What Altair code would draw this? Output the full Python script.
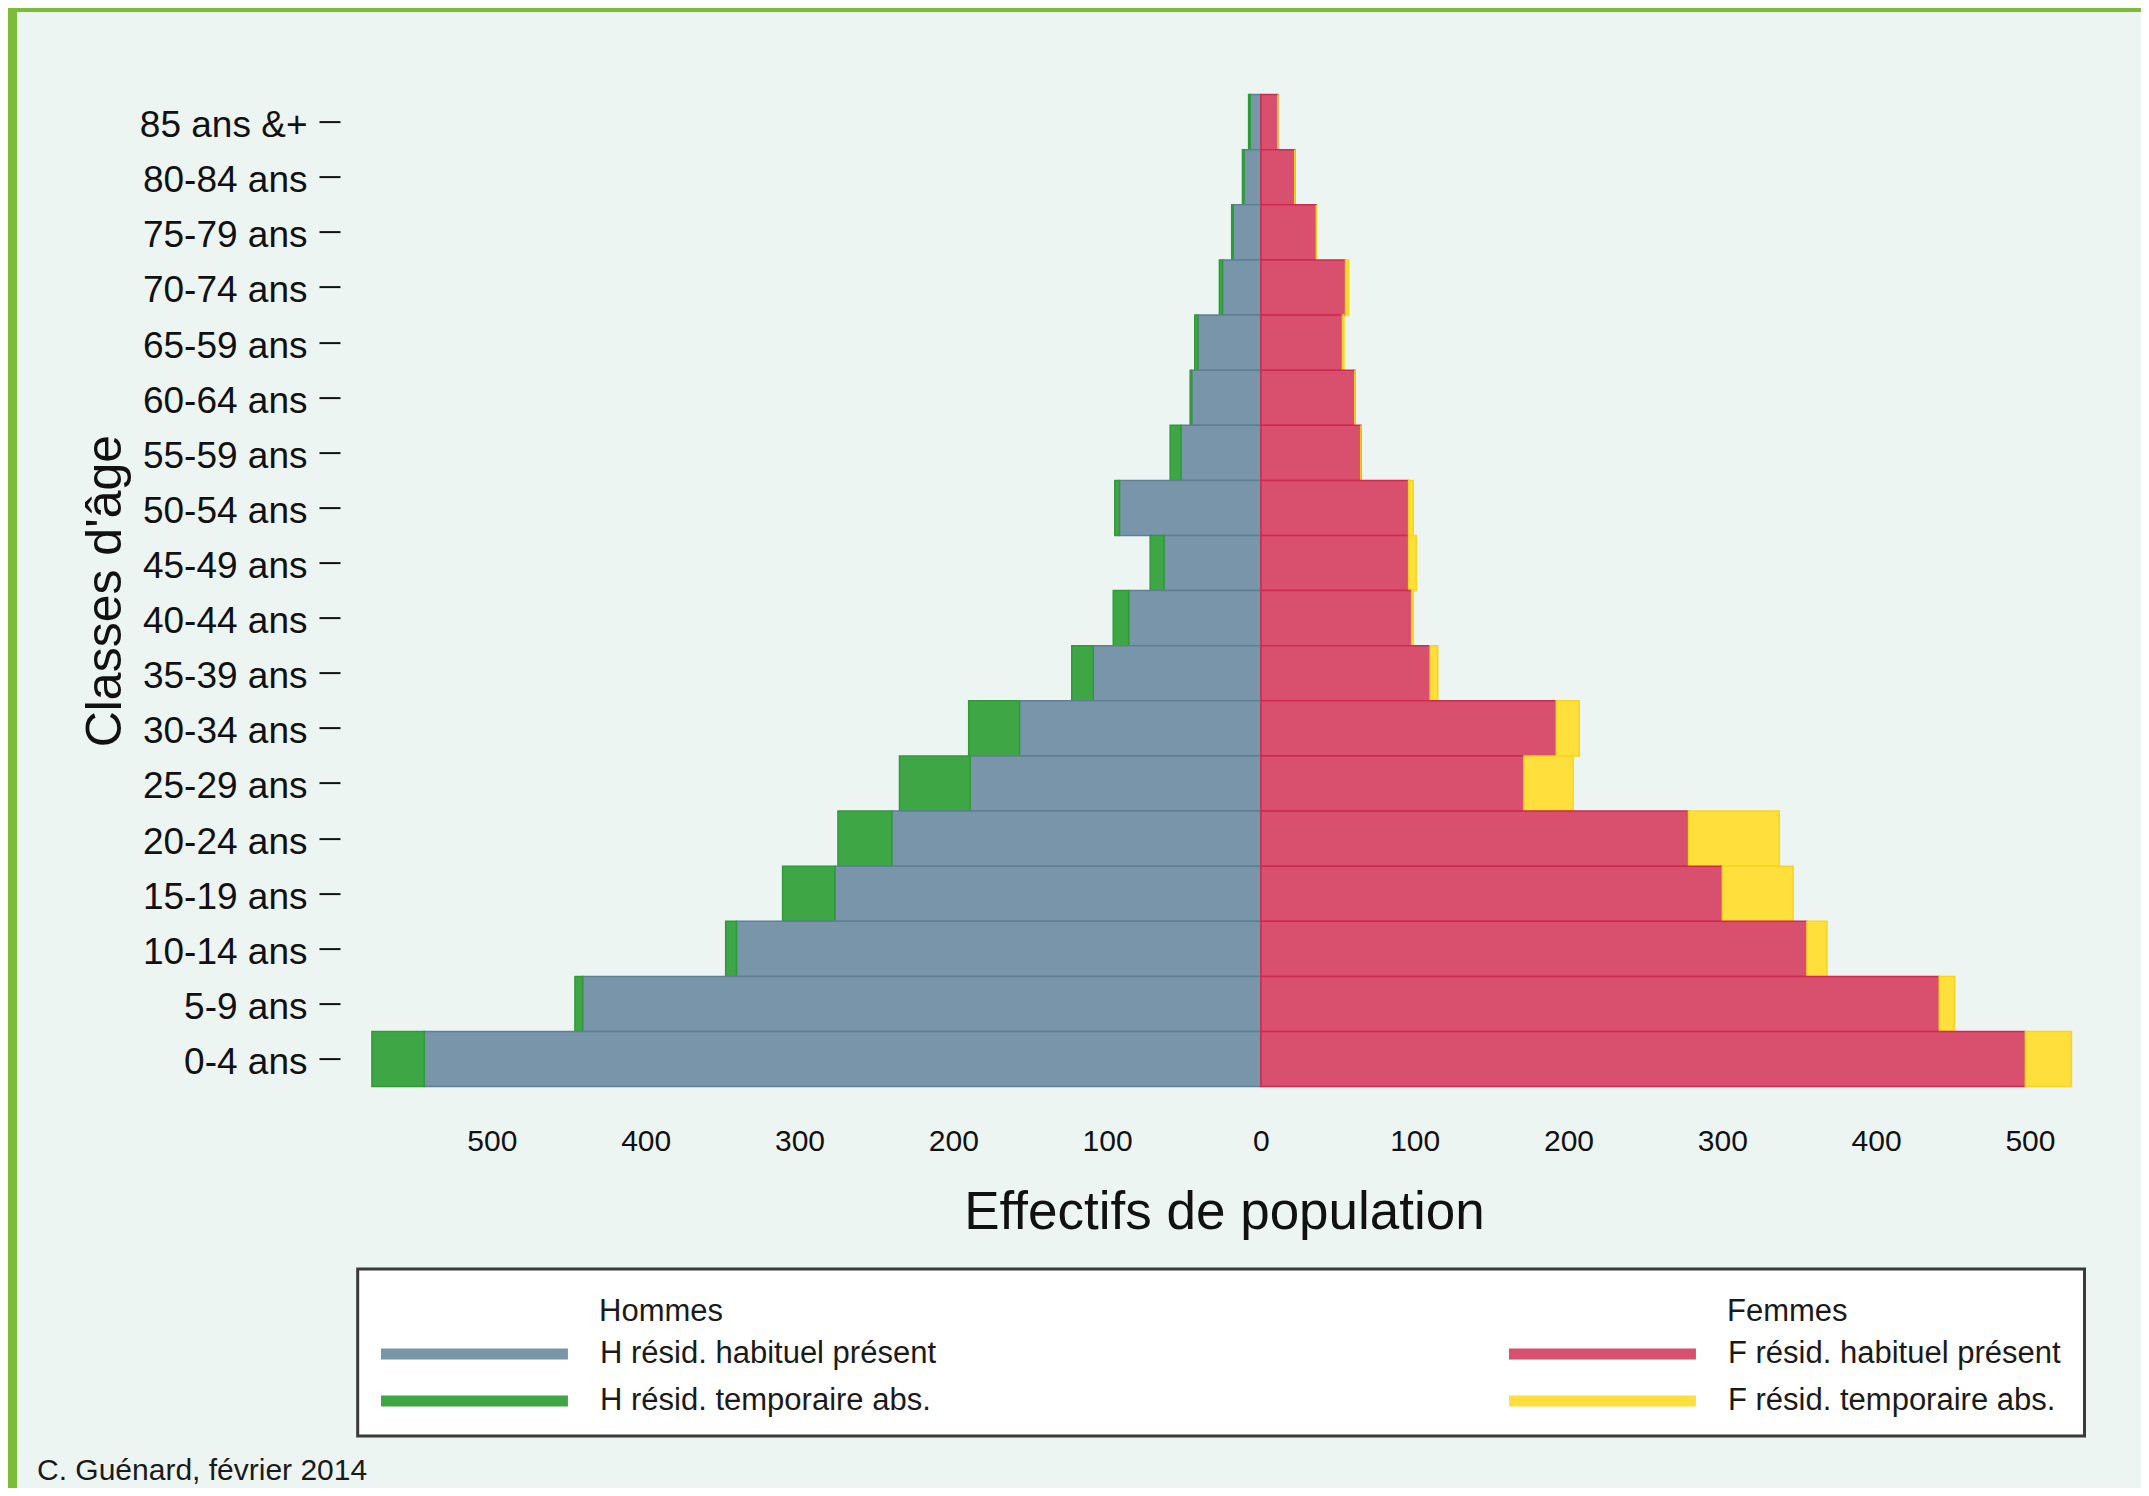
import altair as alt
import pandas as pd

# ---------------- data ----------------
ages = ["85 ans &+", "80-84 ans", "75-79 ans", "70-74 ans", "65-59 ans", "60-64 ans",
        "55-59 ans", "50-54 ans", "45-49 ans", "40-44 ans", "35-39 ans", "30-34 ans",
        "25-29 ans", "20-24 ans", "15-19 ans", "10-14 ans", "5-9 ans", "0-4 ans"]
h_hab = [7, 11, 18, 25, 41, 45, 52, 92, 63, 86, 109, 157, 189, 240, 277, 341, 441, 544]
h_temp = [1, 1, 1, 2, 2, 1, 7, 3, 9, 10, 14, 33, 46, 35, 34, 7, 5, 34]
f_hab = [11, 22, 36, 55, 53, 61, 65, 96, 96, 98, 110, 192, 171, 278, 300, 355, 441, 497]
f_temp = [0, 0, 0, 2, 1, 0, 0, 3, 5, 1, 5, 15, 32, 59, 46, 13, 10, 30]
x_ticks = [-500, -400, -300, -200, -100, 0, 100, 200, 300, 400, 500]

H_HAB = "H résid. habituel présent"
H_TMP = "H résid. temporaire abs."
F_HAB = "F résid. habituel présent"
F_TMP = "F résid. temporaire abs."

men_rows, women_rows = [], []
for a, hb, ht, fb, ft in zip(ages, h_hab, h_temp, f_hab, f_temp):
    men_rows.append({"age": a, "type": H_HAB, "x0": 0, "x1": -hb})
    men_rows.append({"age": a, "type": H_TMP, "x0": -hb, "x1": -(hb + ht)})
    women_rows.append({"age": a, "type": F_HAB, "x0": 0, "x1": fb})
    women_rows.append({"age": a, "type": F_TMP, "x0": fb, "x1": fb + ft})
men = pd.DataFrame(men_rows)
women = pd.DataFrame(women_rows)
one = pd.DataFrame({"d": [0]})

# ---------------- style ----------------
FONT = "Liberation Sans"
BG = "#EDF5F3"
BLUE, BLUE_E = "#7895AA", "#5E7F96"
GREEN, GREEN_E = "#3FA646", "#2F9A3A"
RED, RED_E = "#D94F6E", "#D12A50"
YELLOW, YELLOW_E = "#FFDF3C", "#F7D51E"
BORDER_GREEN = "#7DBB3A"

W, H = 1738, 992
PAD = {"left": 347, "top": 86.6, "right": 48, "bottom": 401.4}

xscale = alt.Scale(domain=[-589, 541], nice=False, zero=False)
yscale = alt.Scale(domain=ages, paddingInner=0, paddingOuter=0)

xaxis = alt.Axis(values=x_ticks, labelExpr="abs(datum.value)", title="Effectifs de population",
                 domain=False, ticks=False, tickSize=0, grid=False,
                 labelFont=FONT, labelFontSize=30, labelColor="#111", labelPadding=55,
                 labelBaseline="middle",
                 titleFont=FONT, titleFontSize=53, titleFontWeight="normal", titleColor="#111",
                 titleY=126, titleBaseline="middle")
yaxis = alt.Axis(title="Classes d'âge", domain=False, ticks=True, tickSize=21, tickWidth=2,
                 tickColor="#111", offset=15, labelPadding=12, grid=False, labelOffset=4,
                 labelFont=FONT, labelFontSize=37, labelColor="#111", labelLimit=400,
                 titleFont=FONT, titleFontSize=50, titleFontWeight="normal", titleColor="#111",
                 titleAngle=270, titleX=-234.5, titleY=H / 2, titleBaseline="middle",
                 titleAlign="center")

# wide flat swatch: 31px symbol unit, path stretched to ~187 x 11 px
SYM = "M-1,-0.355L11.06,-0.355L11.06,0.355L-1,0.355Z"


def legend(x):
    return alt.Legend(title=None, orient="none", legendX=x, legendY=1244,
                      symbolType=SYM, symbolSize=961, symbolStrokeWidth=0,
                      labelFont=FONT, labelFontSize=31, labelColor="#1a1a1a",
                      labelOffset=188, labelLimit=600, rowPadding=15, padding=0)


men_chart = alt.Chart(men).mark_bar(strokeWidth=1.5).encode(
    y=alt.Y("age:N", scale=yscale, sort=ages, axis=yaxis),
    x=alt.X("x0:Q", scale=xscale, axis=xaxis),
    x2="x1:Q",
    color=alt.Color("type:N", scale=alt.Scale(domain=[H_HAB, H_TMP], range=[BLUE, GREEN]),
                    legend=legend(26)),
    stroke=alt.Stroke("type:N", scale=alt.Scale(domain=[H_HAB, H_TMP], range=[BLUE_E, GREEN_E]),
                      legend=None),
)

women_chart = alt.Chart(women).mark_bar(strokeWidth=1.5).encode(
    y=alt.Y("age:N", scale=yscale, sort=ages, axis=yaxis),
    x=alt.X("x0:Q", scale=xscale, axis=xaxis),
    x2="x1:Q",
    color=alt.Color("type:N", scale=alt.Scale(domain=[F_HAB, F_TMP], range=[RED, YELLOW]),
                    legend=legend(1154)),
    stroke=alt.Stroke("type:N", scale=alt.Scale(domain=[F_HAB, F_TMP], range=[RED_E, YELLOW_E]),
                      legend=None),
)

# decorative elements (frame, borders, headers, caption)
green_left = alt.Chart(one).mark_rect(color=BORDER_GREEN).encode(
    x=alt.value(-347), x2=alt.value(-338), y=alt.value(-86.6), y2=alt.value(1393.4))
green_top = alt.Chart(one).mark_rect(color=BORDER_GREEN).encode(
    x=alt.value(-347), x2=alt.value(1786), y=alt.value(-86.6), y2=alt.value(-82.6))
frame = alt.Chart(one).mark_rect(fill="white", stroke="#3a3a3a", strokeWidth=3).encode(
    x=alt.value(2.7), x2=alt.value(1729.5), y=alt.value(1174.4), y2=alt.value(1341.4))
hommes = alt.Chart(one).mark_text(text="Hommes", font=FONT, fontSize=31, color="#1a1a1a",
                                  align="left", baseline="middle").encode(
    x=alt.value(244), y=alt.value(1217))
femmes = alt.Chart(one).mark_text(text="Femmes", font=FONT, fontSize=31, color="#1a1a1a",
                                  align="left", baseline="middle").encode(
    x=alt.value(1372), y=alt.value(1217))
caption = alt.Chart(one).mark_text(text="C. Guénard, février 2014", font=FONT, fontSize=30,
                                   color="#1a1a1a", align="left", baseline="alphabetic").encode(
    x=alt.value(-318), y=alt.value(1385))

chart = alt.layer(
    green_left, green_top, frame, men_chart, women_chart, hommes, femmes, caption
).resolve_scale(
    color="independent", stroke="independent"
).properties(
    width=W, height=H,
    autosize=alt.AutoSizeParams(type="none"),
    padding=PAD,
    background=BG,
).configure_view(stroke=None)

chart.save("out.html", embed_options={"renderer": "svg", "actions": False})
